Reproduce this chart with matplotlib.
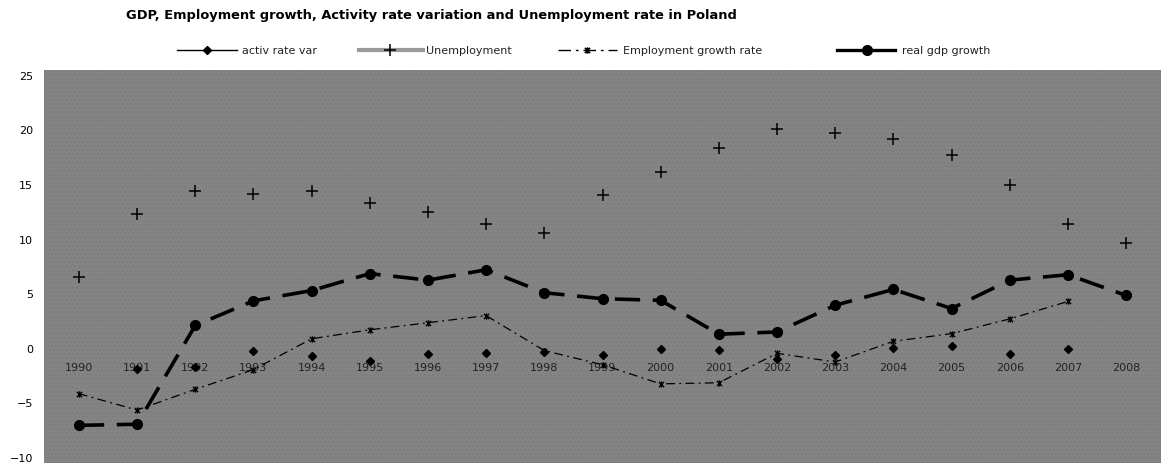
import matplotlib
matplotlib.use("Agg")
from matplotlib import pyplot as plt
from matplotlib.path import Path
from matplotlib.lines import Line2D
from matplotlib.patches import Rectangle

years = [str(y) for y in range(1990, 2009)]

# series values (percent), None where a year has no figure
activ_rate_var = [None, -1.9, -1.8, -0.3, -0.75, -1.25, -0.6, -0.5, -0.35, -0.7,
                  -0.1, -0.2, -1.0, -0.7, 0.0, 0.2, -0.6, -0.1, None]
unemployment = [6.5, 12.3, 14.4, 14.1, 14.4, 13.3, 12.4, 11.3, 10.55, 14.0,
                16.1, 18.3, 20.0, 19.7, 19.1, 17.7, 14.9, 11.3, 9.6]
employment_growth = [-4.2, -5.7, -3.8, -2.0, 0.83, 1.65, 2.3, 2.95, -0.25, -1.55,
                     -3.3, -3.2, -0.5, -1.3, 0.6, 1.3, 2.65, 4.25, None]
real_gdp_growth = [-7.1, -7.0, 2.05, 4.3, 5.25, 6.8, 6.2, 7.15, 5.05, 4.5,
                   4.35, 1.25, 1.45, 3.9, 5.35, 3.6, 6.2, 6.7, 4.8]

W, H = 1161, 464

# x with a vertical bar through it
star = Path([(-1, -1), (1, 1), (-1, 1), (1, -1), (0, -1.2), (0, 1.2)],
            [Path.MOVETO, Path.LINETO, Path.MOVETO, Path.LINETO, Path.MOVETO, Path.LINETO])


def clean(vals):
    xs = [i for i, v in enumerate(vals) if v is not None]
    ys = [v for v in vals if v is not None]
    return xs, ys


fig = plt.figure(figsize=(W / 100, H / 100), dpi=100)
ax = fig.add_axes([44 / W, 0, 1 - 44 / W, (H - 71) / H])
ax.set_facecolor("#848484")
ax.add_patch(Rectangle((0, 0), 1, 1, transform=ax.transAxes, facecolor="none",
                       edgecolor="#7d7d7d", hatch="....", linewidth=0, zorder=0))

x, y = clean(activ_rate_var)
ax.plot(x, y, linestyle="none", marker="D", markersize=4, color="black", zorder=3)

x, y = clean(unemployment)
ax.plot(x, y, linestyle="none", marker="+", markersize=8.5, markeredgewidth=1.1,
        color="black", zorder=3)

x, y = clean(employment_growth)
ax.plot(x, y, color="black", linewidth=0.9, linestyle=(0, (7, 3.5, 1.5, 3.5)),
        marker=star, markersize=4.5, markeredgewidth=1.0, zorder=3)

x, y = clean(real_gdp_growth)
ax.plot(x, y, color="black", linewidth=2.6, linestyle=(0, (7, 3.5)),
        marker="o", markersize=7, zorder=4)

ax.set_xlim(-0.6, 18.6)
ax.set_ylim(-10.55, 25.45)
ax.set_xticks(range(len(years)))
ax.set_xticklabels(years)
ax.set_yticks(range(-10, 30, 5))
ax.spines["bottom"].set_position(("data", 0))
for s in ax.spines.values():
    s.set_visible(False)
ax.tick_params(axis="x", length=0, pad=10, labelsize=8, labelcolor="#222222")
ax.tick_params(axis="y", length=0, pad=8, labelsize=8, labelcolor="black")

fig.text(431 / W, 1 - 15 / H, "GDP, Employment growth, Activity rate variation and Unemployment rate in Poland",
         ha="center", va="center", fontsize=9.4, fontweight="bold")


# legend drawn by hand, positions in pixels
def px(xp, yp):
    return xp / W, 1 - yp / H


ly = 51
entries = [
    (177, 237, 207, 242, "activ rate var",
     dict(color="black", linewidth=1), dict(marker="D", markersize=4, color="black")),
    (359, 423, 390, 426, "Unemployment",
     dict(color="#9a9a9a", linewidth=3), dict(marker="+", markersize=8.5, markeredgewidth=1.1, color="black")),
    (558, 617, 587, 623, "Employment growth rate",
     dict(color="black", linewidth=1, linestyle=(0, (9, 3.5, 2, 3.5))),
     dict(marker=star, markersize=4.5, markeredgewidth=1.2, color="black")),
    (837, 895, 867, 902, "real gdp growth",
     dict(color="black", linewidth=2.4), dict(marker="o", markersize=7, color="black")),
]
for x0, x1, xm, xt, label, lstyle, mstyle in entries:
    (a, b), (c, d) = px(x0, ly), px(x1, ly)
    fig.add_artist(Line2D([a, c], [b, d], transform=fig.transFigure, **lstyle))
    m = px(xm, ly)
    fig.add_artist(Line2D([m[0]], [m[1]], transform=fig.transFigure, linestyle="none", **mstyle))
    t = px(xt, ly)
    fig.text(t[0], t[1], label, ha="left", va="center", fontsize=8, color="#222222")

fig.savefig("out.png", dpi=100)
